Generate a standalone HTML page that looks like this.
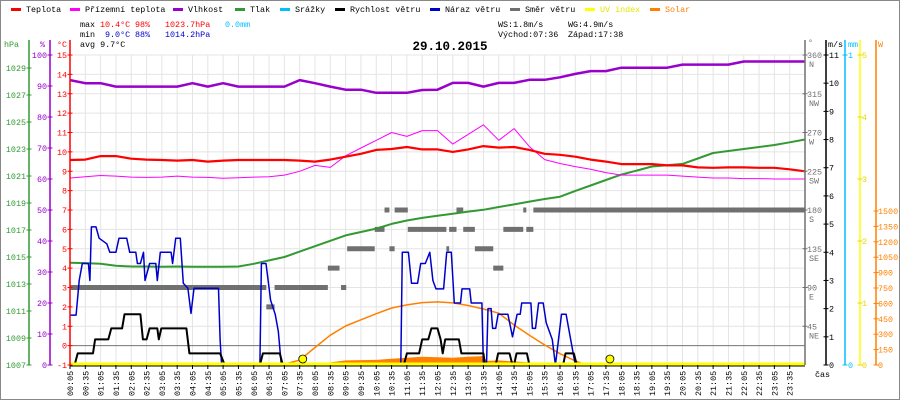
<!DOCTYPE html>
<html><head><meta charset="utf-8">
<style>
html,body{margin:0;padding:0;background:#fff;}
svg{display:block;}
text{font-family:"Liberation Mono",monospace;font-size:8.4px;}
</style></head>
<body>
<svg id="chart" width="900" height="400" viewBox="0 0 900 400" xmlns="http://www.w3.org/2000/svg">
<rect x="0.5" y="0.5" width="899" height="399" fill="#fff" stroke="#888"/>
<g id="grid"></g>
<g id="series"></g>
<g id="axes"></g>
<g id="legend"></g>
<g>
<text x="80" y="27" fill="#000">max</text>
<text x="100" y="27" fill="#f00">10.4°C</text>
<text x="135" y="27" fill="#f00">98%</text>
<text x="165" y="27" fill="#f00">1023.7hPa</text>
<text x="225" y="27" fill="#00bfff">0.0mm</text>
<text x="80" y="37" fill="#000">min</text>
<text x="105" y="37" fill="#00c">9.0°C</text>
<text x="135" y="37" fill="#00c">88%</text>
<text x="165" y="37" fill="#00c">1014.2hPa</text>
<text x="80" y="47" fill="#000">avg  9.7°C</text>
<text x="498" y="27" fill="#000">WS:1.8m/s</text>
<text x="568" y="27" fill="#000">WG:4.9m/s</text>
<text x="498" y="37" fill="#000">Východ:07:36</text>
<text x="568" y="37" fill="#000">Západ:17:38</text>
<text x="450" y="50" text-anchor="middle" fill="#000" style="font-size:12.5px;font-weight:bold">29.10.2015</text>
</g>
</svg>
<script>
const halfHours = [];
for (let i = 0; i <= 48; i++) halfHours.push(i * 0.5);
const timeLabels = ["00:05","00:35","01:05","01:35","02:05","02:35","03:05","03:35","04:05","04:35","05:05","05:35","06:05","06:35","07:05","07:35","08:05","08:35","09:05","09:35","10:05","10:35","11:05","11:35","12:05","12:35","13:05","13:35","14:05","14:35","15:05","15:35","16:05","16:35","17:05","17:35","18:05","18:35","19:05","19:35","20:05","20:35","21:05","21:35","22:05","22:35","23:05","23:35"];
const tempVals = [9.58,9.6,9.78,9.78,9.65,9.6,9.58,9.55,9.58,9.5,9.55,9.58,9.58,9.58,9.58,9.55,9.5,9.6,9.75,9.9,10.1,10.15,10.25,10.13,10.13,10.0,10.13,10.3,10.22,10.25,10.1,9.9,9.85,9.75,9.6,9.5,9.37,9.37,9.37,9.3,9.3,9.2,9.18,9.2,9.2,9.18,9.18,9.1,9.0];
const feelVals = [8.65,8.72,8.78,8.75,8.7,8.68,8.7,8.75,8.7,8.68,8.64,8.66,8.7,8.72,8.8,9.0,9.3,9.2,9.8,10.2,10.6,11.0,10.8,11.1,11.1,10.4,10.9,11.4,10.6,11.2,10.27,9.6,9.4,9.24,9.1,8.93,8.8,8.8,8.8,8.8,8.75,8.7,8.65,8.65,8.62,8.62,8.6,8.6,8.6];
const humVals = [91.9,90.9,90.9,89.8,89.8,89.8,89.8,89.8,90.9,89.8,90.9,89.8,89.8,89.8,89.8,91.9,90.9,89.8,88.8,88.8,87.8,87.8,87.8,88.7,88.8,91,91,89.8,91,91,92,92,92.8,93.9,94.8,94.8,95.9,95.9,95.9,95.9,96.9,96.9,96.9,96.9,97.9,97.9,97.9,97.9,97.9];
const pressVals = [1014.58,1014.55,1014.5,1014.35,1014.3,1014.3,1014.28,1014.3,1014.28,1014.28,1014.28,1014.3,1014.5,1014.75,1015.0,1015.4,1015.8,1016.2,1016.6,1016.85,1017.1,1017.45,1017.7,1017.9,1018.06,1018.2,1018.36,1018.5,1018.7,1018.9,1019.1,1019.3,1019.47,1019.9,1020.3,1020.7,1021.1,1021.4,1021.7,1021.8,1021.9,1022.3,1022.7,1022.85,1023.0,1023.15,1023.3,1023.5,1023.7];
const windT = [0,0.15,0.25,0.75,0.82,1.25,1.35,1.7,1.78,2.3,2.38,2.5,2.6,2.85,2.9,2.98,3.8,3.9,4.9,5.05,6.2,6.3,6.85,6.95,10.9,11.0,11.4,11.5,11.7,11.8,12.0,12.1,12.17,12.25,12.7,12.78,13.5,13.55,13.9,13.98,14.35,14.45,14.5,14.58,14.92,15.0,16.1,16.18,16.45,16.55,24];
const windV = [0,0,0.41,0.41,0.91,0.91,1.3,1.3,1.8,1.8,0.91,0.91,1.3,1.3,0.91,1.3,1.3,0.41,0.41,0,0,0.41,0.41,0,0,0.41,0.41,0.91,0.91,1.3,1.3,0.91,0.41,0.91,0.91,0.41,0.41,0,0,0.41,0.41,0,0,0.41,0.41,0,0,0.41,0.41,0,0];
const gustT = [0,0.2,0.3,0.4,0.6,0.65,0.7,0.85,0.95,1.2,1.3,1.5,1.6,1.85,1.95,2.15,2.2,2.3,2.4,2.45,2.6,2.8,2.85,2.95,3.3,3.35,3.45,3.6,3.7,3.85,3.95,4.05,4.85,4.9,4.95,6.2,6.25,6.4,6.55,6.7,6.8,6.9,10.8,10.85,11.05,11.15,11.35,11.45,11.6,11.75,11.85,11.95,12.2,12.3,12.45,12.55,12.75,12.8,13.05,13.1,13.45,13.5,13.6,13.65,13.75,13.8,13.9,13.98,14.3,14.45,14.6,14.7,14.75,15.05,15.1,15.2,15.3,15.45,15.55,15.75,15.85,15.95,16.05,16.2,16.35,16.5];
const gustV = [1.77,1.77,3.0,3.6,3.6,3.0,4.9,4.9,4.5,4.3,4.0,4.0,4.5,4.5,4.0,4.0,3.6,3.6,4.0,3.0,3.6,3.6,3.0,4.0,4.0,3.6,4.5,4.5,2.9,2.72,1.83,2.72,2.72,0.9,0,0,3.6,3.6,2.3,1.8,1.2,0,0,4.0,4.0,2.9,2.9,3.6,3.6,4.0,3.0,2.7,2.7,4.0,4.0,2.2,2.2,2.7,2.7,2.2,2.2,0,0,2.0,2.0,1.3,1.3,1.8,1.8,1.0,1.8,1.8,2.2,2.2,1.3,1.3,2.2,2.2,1.5,0.9,0,0.9,1.8,1.8,0.9,0];
const dirStart = [0,6.41,6.68,8.42,8.85,9.05,9.95,10.27,10.43,10.6,11.03,12.29,12.38,12.62,12.84,13.22,13.82,14.15,14.8,14.9,15.13];
const dirEnd = [6.41,6.68,8.42,8.8,9.02,9.95,10.27,10.43,10.6,11.03,12.29,12.38,12.62,12.84,13.22,13.82,14.15,14.8,14.9,15.13,24];
const dirDeg = [90,67.5,90,112.5,90,135,157.5,180,135,180,157.5,135,157.5,180,157.5,135,112.5,157.5,180,157.5,180];
const solarMaxT = [6.9,7.5,8,8.5,9,9.5,10,10.5,11,11.5,12,12.5,13,13.5,14,14.5,15,15.5,16,16.5,16.85];
const solarMaxV = [0,48,170,290,380,440,500,555,585,608,615,605,580,545,505,390,290,195,110,40,0];
const solarT = [7.0,7.2,8,8.5,9,9.5,10,10.5,11,11.5,12,12.5,13,13.4,13.5,13.6,14,14.5,15,15.5,16,16.2];
const solarV = [0,10,16,25,45,48,50,60,70,80,75,70,80,85,90,40,45,35,25,15,15,0];
const sunEvents = [7.6, 17.63];

const NS = "http://www.w3.org/2000/svg";
const X = h => 70 + h * 30.625;
const yT = t => 55 + (15 - t) * 19.375;
const yH = v => 55 + (100 - v) * 3.1;
const yP = p => 365 - (p - 1007) * 13.5;
const yWs = v => 365 - v * 310 / 11;
const yD = d => 365 - d * 310 / 360;
const yS = w => 365 - w * 154 / 1500;
const yUV = u => 365 - u * 62;

function mk(tag, attrs, parent) {
  const e = document.createElementNS(NS, tag);
  for (const k in attrs) e.setAttribute(k, attrs[k]);
  parent.appendChild(e);
  return e;
}
const G = document.getElementById('grid');
const S = document.getElementById('series');
const A = document.getElementById('axes');
const L = document.getElementById('legend');

// grid horizontal
for (let t = -1; t <= 15; t++) {
  const l = mk('line', {x1: 70, x2: 805, y1: yT(t), y2: yT(t), stroke: '#e4e4e4', 'stroke-width': 1}, G);
  
  
}
// grid vertical + time labels
timeLabels.forEach((lab, i) => {
  const x = X(halfHours[i]);
  const l = mk('line', {x1: x, x2: x, y1: 55, y2: 365, stroke: '#e4e4e4', 'stroke-width': 1}, G);
  
  
  const tk = mk('line', {x1: x, x2: x, y1: 365, y2: 369, stroke: '#000', 'stroke-width': 1}, A);
  
  
  const tx = mk('text', {x: 0, y: 0, transform: `translate(${x + 3},396) rotate(-90)`, fill: '#000'}, A);
  tx.textContent = lab;
  
  
});
// zero celsius line
const zl = mk('line', {x1: 70, x2: 805, y1: yT(0), y2: yT(0), stroke: '#777', 'stroke-width': 1}, G);



function poly(ts, vs, yf, color, w, name) {
  const pts = ts.map((t, i) => X(t).toFixed(1) + ',' + yf(vs[i]).toFixed(1)).join(' ');
  const p = mk('polyline', {points: pts, fill: 'none', stroke: color, 'stroke-width': w, 'stroke-linejoin': 'round'}, S);
  
  
  return p;
}
// solar fill
{
  const pts = solarT.map((t, i) => X(t).toFixed(1) + ',' + yS(solarV[i]).toFixed(1));
  pts.push(X(solarT[solarT.length - 1]).toFixed(1) + ',365', X(solarT[0]).toFixed(1) + ',365');
  const p = mk('polygon', {points: pts.join(' '), fill: '#ff8000'}, S);
  
  
}
// direction bars
dirDeg.forEach((d, i) => {
  const r = mk('rect', {x: X(dirStart[i]), y: yD(d) - 2.5, width: Math.max(1, X(dirEnd[i]) - X(dirStart[i])), height: 5, fill: '#707070'}, S);
  
  
});
poly(halfHours, pressVals, yP, '#339933', 2, 'pressure-line');
poly(halfHours, humVals, yH, '#9900cc', 2.5, 'humidity-line');
poly(halfHours, feelVals, yT, '#ff00ff', 1, 'feels-like-line');
poly(halfHours, tempVals, yT, '#ff0000', 2.2, 'temperature-line');
poly(solarMaxT, solarMaxV, yS, '#ff8000', 1.5, 'solar-max-curve');
poly(gustT, gustV, yWs, '#0000cc', 1.5, 'wind-gust-line');
poly(windT, windV, yWs, '#000000', 2, 'wind-speed-line');
// uv line
{
  const l = mk('line', {x1: 70, x2: 805, y1: 364, y2: 364, stroke: '#ffff00', 'stroke-width': 3}, S);
  
  
  const b = mk('line', {x1: 70, x2: 805, y1: 366, y2: 366, stroke: '#000', 'stroke-width': 1}, S);
  
  
}
sunEvents.forEach(h => {
  const c = mk('circle', {cx: X(h), cy: 359, r: 4, fill: '#ffff00', stroke: '#000', 'stroke-width': 0.8}, S);
  
  
});

// axes
function vaxis(x, color, name, y1) {
  const l = mk('line', {x1: x, x2: x, y1: y1, y2: 365, stroke: color, 'stroke-width': 1.5}, A);
  
  
}
function tick(x, y, color, label, lx, anchor, name) {
  const t = mk('line', {x1: x - 2.5, x2: x + 2.5, y1: y, y2: y, stroke: color, 'stroke-width': 1}, A);
  
  
  const tx = mk('text', {x: lx, y: y + 3, fill: color, 'text-anchor': anchor}, A);
  tx.textContent = label;
  
  
}
function head(x, y, color, txt, name) {
  const tx = mk('text', {x: x, y: y, fill: color}, A);
  tx.textContent = txt;
  
  
}
vaxis(29, '#339933', 'pressure-axis', 40);
vaxis(50, '#9900cc', 'humidity-axis', 40);
vaxis(70, '#ff0000', 'temperature-axis', 40);
head(4, 47, '#339933', 'hPa', 'pressure-axis-title');
head(40, 47, '#9900cc', '%', 'humidity-axis-title');
head(57, 47, '#ff0000', '°C', 'temperature-axis-title');
for (let p = 1007; p <= 1029; p += 2) tick(29, yP(p), '#339933', String(p), 26, 'end', 'pressure-axis');
for (let h = 0; h <= 100; h += 10) tick(50, yH(h), '#9900cc', String(h), 47, 'end', 'humidity-axis');
for (let t = -1; t <= 15; t++) tick(70, yT(t), '#ff0000', String(t), 67, 'end', 'temperature-axis');

vaxis(805, '#707070', 'direction-axis', 40);
vaxis(826, '#000', 'wind-speed-axis', 40);
vaxis(845, '#00bfff', 'rain-axis', 40);
vaxis(860, '#ffff00', 'uv-axis', 40);
vaxis(876, '#ff8000', 'solar-axis', 40);
head(808, 45, '#707070', '°', 'direction-axis-title');
head(828, 47, '#000', 'm/s', 'wind-speed-axis-title');
head(848, 47, '#00bfff', 'mm', 'rain-axis-title');
head(878, 47, '#ff8000', 'W', 'solar-axis-title');
const dirNames = ['', 'NE', 'E', 'SE', 'S', 'SW', 'W', 'NW', 'N'];
for (let i = 1; i <= 8; i++) {
  const d = i * 45;
  tick(805, yD(d), '#707070', String(d), 807, 'start', 'direction-axis');
  const tx = mk('text', {x: 809, y: yD(d) + 12, fill: '#707070'}, A);
  tx.textContent = dirNames[i];
  
  
}
for (let v = 0; v <= 11; v++) tick(826, yWs(v), '#000', String(v), 829, 'start', 'wind-speed-axis');
tick(845, 55, '#00bfff', '1', 848, 'start', 'rain-axis');
tick(845, 365, '#00bfff', '0', 848, 'start', 'rain-axis');
for (let u = 0; u <= 5; u++) tick(860, yUV(u), '#e6d800', String(u), 862, 'start', 'uv-axis');
for (let w = 0; w <= 1500; w += 150) tick(876, yS(w), '#ff8000', String(w), 878, 'start', 'solar-axis');
head(815, 377, '#000', 'čas', 'x-axis-title');

// legend
const legNames = ['Teplota', 'Přízemní teplota', 'Vlhkost', 'Tlak', 'Srážky', 'Rychlost větru', 'Náraz větru', 'Směr větru', 'UV index', 'Solar'];
const legColors = ['#ff0000', '#ff00ff', '#9900cc', '#339933', '#00bfff', '#000000', '#0000cc', '#707070', '#ffff00', '#ff8000'];
const legX = [11, 70, 173, 235, 280, 335, 430, 510, 585, 650];
legNames.forEach((n, i) => {
  const g = mk('g', {}, L);
  
  
  mk('rect', {x: legX[i], y: 8, width: 10, height: 3, fill: legColors[i]}, g);
  const t = mk('text', {x: legX[i] + 15, y: 12, fill: i === 8 ? '#e6e600' : (i === 9 ? '#ff8000' : '#000')}, g);
  t.textContent = n;
});
</script>
</body></html>
